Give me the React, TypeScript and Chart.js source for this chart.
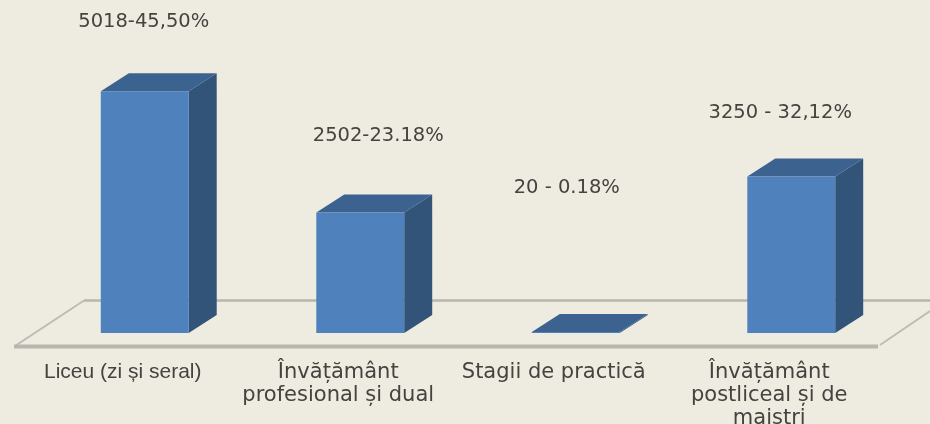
import React, { useEffect, useRef } from "react";
import { Chart, registerables } from "chart.js";

Chart.register(...registerables);

const categories: string[][] = [
  ["Liceu (zi și seral)"],
  ["Învățământ", "profesional și dual"],
  ["Stagii de practică"],
  ["Învățământ", "postliceal și de", "maiștri"],
];
const values = [5018, 2502, 20, 3250];
const valueLabels = ["5018-45,50%", "2502-23.18%", "20 - 0.18%", "3250 - 32,12%"];

const BG = "#EEECE1";
const FRONT = "#4F81BD";
const SIDE = "#325479";
const TOP = "#3C6390";
const FLOOR = "#B8B6AE";
const TEXT = "#45433f";
const DEPTH_X = 28;
const DEPTH_Y = 18;

const labelOffsets = [
  [-1, -69],
  [18, -77],
  [-9, -144],
  [-11, -64],
];

const poly = (ctx: CanvasRenderingContext2D, pts: number[][], color: string) => {
  ctx.fillStyle = color;
  ctx.beginPath();
  pts.forEach(([x, y], i) => (i ? ctx.lineTo(x, y) : ctx.moveTo(x, y)));
  ctx.closePath();
  ctx.fill();
};

const scenePlugin = {
  id: "scene",
  beforeDraw(chart: any) {
    const { ctx, width, height } = chart;
    ctx.save();
    ctx.fillStyle = BG;
    ctx.fillRect(0, 0, width, height);
    ctx.strokeStyle = FLOOR;
    ctx.lineWidth = 2.5;
    ctx.beginPath();
    ctx.moveTo(84, 300.5);
    ctx.lineTo(930, 300.5);
    ctx.stroke();
    ctx.lineWidth = 2;
    ctx.strokeStyle = "#BDBBB3";
    ctx.beginPath();
    ctx.moveTo(15, 346);
    ctx.lineTo(84, 300.5);
    ctx.moveTo(880, 345);
    ctx.lineTo(930, 311);
    ctx.stroke();
    ctx.lineWidth = 4;
    ctx.strokeStyle = FLOOR;
    ctx.beginPath();
    ctx.moveTo(14, 346.5);
    ctx.lineTo(878, 346.5);
    ctx.stroke();
    ctx.restore();
  },
  beforeDatasetsDraw(chart: any) {
    const { ctx } = chart;
    chart.getDatasetMeta(0).data.forEach((bar: any) => {
      const half = bar.width / 2;
      const l = bar.x - half;
      const r = bar.x + half;
      const t = bar.y;
      const b = bar.base;
      poly(ctx, [[r, t], [r + DEPTH_X, t - DEPTH_Y], [r + DEPTH_X, b - DEPTH_Y], [r, b]], SIDE);
      poly(ctx, [[l, t], [l + DEPTH_X, t - DEPTH_Y], [r + DEPTH_X, t - DEPTH_Y], [r, t]], TOP);
    });
  },
  afterDatasetsDraw(chart: any) {
    const { ctx } = chart;
    ctx.save();
    ctx.fillStyle = TEXT;
    ctx.font = '19.5px "DejaVu Sans"';
    ctx.textAlign = "center";
    ctx.textBaseline = "middle";
    chart.getDatasetMeta(0).data.forEach((bar: any, i: number) => {
      ctx.fillText(valueLabels[i], bar.x + labelOffsets[i][0], bar.y + labelOffsets[i][1]);
    });
    ctx.restore();
  },
};

export default function App() {
  const ref = useRef<HTMLCanvasElement>(null);
  useEffect(() => {
    document.body.style.margin = "0";
    document.body.style.background = BG;
    const chart = new Chart(ref.current!, {
      type: "bar",
      data: {
        labels: categories,
        datasets: [
          {
            data: values,
            backgroundColor: FRONT,
            borderWidth: 0,
            barPercentage: 0.408,
            categoryPercentage: 1,
          },
        ],
      },
      options: {
        responsive: false,
        animation: false,
        layout: { padding: { left: 37, right: 31, top: 44, bottom: 0 } },
        plugins: { legend: { display: false }, tooltip: { enabled: false } },
        scales: {
          y: { display: false, min: 0, max: 6000 },
          x: {
            afterFit(scale: any) {
              scale.height = 91;
            },
            grid: { display: false, drawTicks: false },
            border: { display: false },
            ticks: {
              autoSkip: false,
              maxRotation: 0,
              minRotation: 0,
              padding: 28,
              labelOffset: -22,
              color: TEXT,
              font: (c: any) => ({
                family: c.index === 0 ? '"Liberation Sans"' : '"DejaVu Sans"',
                size: 21,
                lineHeight: 1.1,
              }),
            },
          },
        },
      },
      plugins: [scenePlugin],
    } as any);
    return () => chart.destroy();
  }, []);
  return <canvas ref={ref} width={930} height={424} style={{ display: "block", filter: "blur(0.6px)" }} />;
}
